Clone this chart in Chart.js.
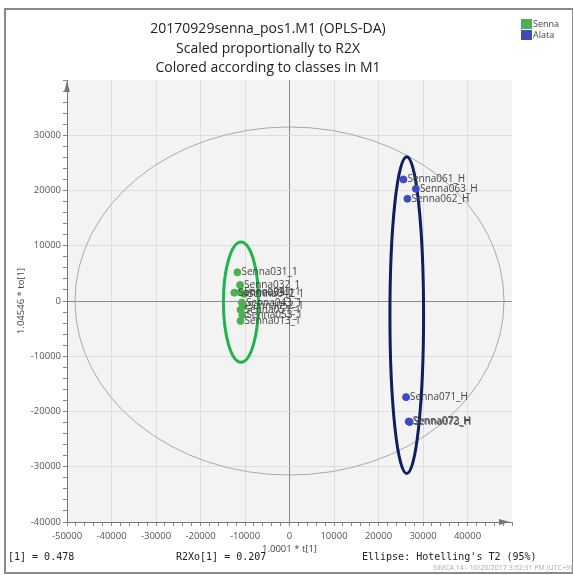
<!DOCTYPE html>
<html>
<head>
<meta charset="utf-8">
<script src="https://cdn.jsdelivr.net/npm/chart.js@4.4.1/dist/chart.umd.min.js"></script>
<style>
  body { margin: 0; background: #fff; }
  #wrap { position: relative; width: 573px; height: 575px; overflow: hidden; }
  #frame { position: absolute; left: 4px; top: 8px; width: 566px; height: 562px; border: 2px solid #8a8a8a; }
  #plot { position: absolute; left: 0; top: 0; }
  .txt { position: absolute; white-space: pre; color: #222; }
  #title { left: 68px; width: 400px; top: 18px; text-align: center; font: 14px "Open Sans", sans-serif; line-height: 19.5px; color: #222; }
  .legsq { position: absolute; left: 521px; width: 11px; height: 10px; }
  .legtx { left: 533px; font: 9px "Open Sans", sans-serif; color: #444; line-height: 10px; }
  .mono { font: 10px "DejaVu Sans Mono", monospace; top: 551px; line-height: 12px; }
  #simca { right: 1px; top: 563px; font: 7px "Open Sans", sans-serif; color: #aaa; }
</style>
</head>
<body>
<div id="wrap">
  <div id="frame"></div>
  <canvas id="plot" width="573" height="575"></canvas>
  <div class="txt" id="title">20170929senna_pos1.M1 (OPLS-DA)
Scaled proportionally to R2X
Colored according to classes in M1</div>
  <div class="legsq" style="top:19px;background:#4caf50"></div>
  <div class="legsq" style="top:30px;background:#3d4cb8"></div>
  <div class="txt legtx" style="top:19px">Senna</div>
  <div class="txt legtx" style="top:30px">Alata</div>
  <div class="txt mono" style="left:8px">[1] = 0.478</div>
  <div class="txt mono" style="left:176px">R2Xo[1] = 0.207</div>
  <div class="txt mono" style="left:362px">Ellipse: Hotelling's T2 (95%)</div>
  <div class="txt" id="simca">SIMCA 14 - 10/20/2017 3:52:31 PM (UTC+9)</div>
</div>
<script>
// Senna class (green)
var sennaNames = ['Senna031_1', 'Senna032_1', 'Senna033_1', 'Senna041_1', 'Senna042_1',
                  'Senna043_1', 'Senna051_1', 'Senna052_1', 'Senna053_1', 'Senna013_1'];
var sennaX = [-11700, -11100, -12400, -11000, -10200, -10700, -11000, -10300, -10600, -11000];
var sennaY = [5200, 2900, 1500, 1600, 1300, -300, -1600, -900, -2500, -3600];

// Alata class (blue)
var alataNames = ['Senna061_H', 'Senna063_H', 'Senna062_H', 'Senna071_H', 'Senna072_H', 'Senna073_H'];
var alataX = [25600, 28400, 26500, 26200, 26800, 27000];
var alataY = [22000, 20300, 18500, -17400, -21800, -21900];

// ellipses: Hotelling T2 (95%) and class ellipses
var ellipseNames = ['hotelling', 'senna', 'alata'];
var ellipseCx = [0, -10900, 26350];
var ellipseCy = [0, -200, -2540];
var ellipseRx = [48200, 3950, 3780];
var ellipseRy = [31500, 10900, 28670];

var xTicks = [-50000, -40000, -30000, -20000, -10000, 0, 10000, 20000, 30000, 40000];
var yTicks = [-40000, -30000, -20000, -10000, 0, 10000, 20000, 30000];

function toPoints(xs, ys) {
  return xs.map(function (x, i) { return { x: x, y: ys[i] }; });
}

var ellipseStyle = {
  hotelling: { color: '#a8a8a8', width: 1 },
  senna: { color: '#1fb34c', width: 3 },
  alata: { color: '#0c1f5e', width: 3 }
};

var gridColor = function (ctx) {
  var v = ctx.tick.value;
  if (v === 0) return '#8c8c8c';
  if (v % 10000 !== 0) return 'rgba(0,0,0,0)';
  return '#dddddd';
};

var plotPlugin = {
  id: 'simcaPlot',
  beforeDraw: function (chart) {
    var a = chart.chartArea, c = chart.ctx;
    c.save();
    c.fillStyle = '#f3f3f3';
    c.fillRect(a.left, a.top, a.right - a.left, a.bottom - a.top);
    c.restore();
  },
  beforeDatasetsDraw: function (chart) {
    var a = chart.chartArea, c = chart.ctx;
    var xs = chart.scales.x, ys = chart.scales.y;
    c.save();
    c.beginPath();
    c.rect(a.left, a.top, a.right - a.left, a.bottom - a.top);
    c.clip();
    ellipseNames.forEach(function (n, i) {
      var px = xs.getPixelForValue(ellipseCx[i]);
      var py = ys.getPixelForValue(ellipseCy[i]);
      var rx = xs.getPixelForValue(ellipseCx[i] + ellipseRx[i]) - px;
      var ry = py - ys.getPixelForValue(ellipseCy[i] + ellipseRy[i]);
      c.beginPath();
      c.ellipse(px, py, rx, ry, 0, 0, Math.PI * 2);
      c.strokeStyle = ellipseStyle[n].color;
      c.lineWidth = ellipseStyle[n].width;
      c.stroke();
    });
    c.restore();
  },
  afterDatasetsDraw: function (chart) {
    var c = chart.ctx;
    c.save();
    c.font = '10px "Open Sans", sans-serif';
    c.fillStyle = '#444';
    c.textBaseline = 'middle';
    chart.data.datasets.forEach(function (ds, di) {
      var meta = chart.getDatasetMeta(di);
      meta.data.forEach(function (pt, i) {
        c.fillText(ds.names[i], pt.x + 4, pt.y);
      });
    });
    c.restore();
  },
  afterDraw: function (chart) {
    var a = chart.chartArea, c = chart.ctx;
    c.save();
    c.fillStyle = '#777';
    // arrow at top of y axis
    c.beginPath();
    c.moveTo(a.left, a.top + 1);
    c.lineTo(a.left - 3, a.top + 12);
    c.lineTo(a.left + 3, a.top + 12);
    c.closePath();
    c.fill();
    // arrow at end of x axis
    c.beginPath();
    c.moveTo(a.right - 2, a.bottom);
    c.lineTo(a.right - 13, a.bottom - 3);
    c.lineTo(a.right - 13, a.bottom + 3);
    c.closePath();
    c.fill();
    c.restore();
  }
};

var tickFont = { family: '"Open Sans", sans-serif', size: 9.5 };

var chart = new Chart(document.getElementById('plot'), {
  type: 'scatter',
  data: {
    datasets: [{
      label: 'Senna',
      names: sennaNames,
      data: toPoints(sennaX, sennaY),
      backgroundColor: '#4caf50',
      borderColor: '#4caf50',
      pointRadius: 3.5
    }, {
      label: 'Alata',
      names: alataNames,
      data: toPoints(alataX, alataY),
      backgroundColor: '#3d4cc4',
      borderColor: '#3d4cc4',
      pointRadius: 3.5
    }]
  },
  options: {
    responsive: false,
    animation: false,
    layout: { padding: { top: 80, right: 61, bottom: 0, left: 0 } },
    plugins: {
      legend: { display: false },
      tooltip: { enabled: false }
    },
    scales: {
      x: {
        type: 'linear',
        min: -50000,
        max: 50000,
        afterFit: function (s) { s.height = 53; },
        border: { color: '#777', width: 1 },
        grid: {
          color: function (ctx) { return ctx.tick.value === 50000 ? 'rgba(0,0,0,0)' : gridColor(ctx); },
          tickColor: '#888',
          tickLength: 4
        },
        ticks: {
          stepSize: 2000,
          autoSkip: false,
          maxRotation: 0,
          padding: 5,
          color: '#555',
          font: tickFont,
          callback: function (v) { return xTicks.indexOf(v) >= 0 ? String(v) : ''; }
        },
        title: {
          display: true,
          text: '1.0001 * t[1]',
          color: '#444',
          font: { family: '"Open Sans", sans-serif', size: 9.5 },
          padding: { top: 0, bottom: 20 }
        }
      },
      y: {
        type: 'linear',
        min: -40000,
        max: 40000,
        afterFit: function (s) { s.width = 67; },
        border: { color: '#777', width: 1 },
        grid: {
          color: function (ctx) { return ctx.tick.value === 40000 ? 'rgba(0,0,0,0)' : gridColor(ctx); },
          tickColor: '#888',
          tickLength: 4
        },
        ticks: {
          stepSize: 2000,
          autoSkip: false,
          padding: 2,
          color: '#555',
          font: tickFont,
          callback: function (v) { return yTicks.indexOf(v) >= 0 ? String(v) : ''; }
        },
        title: {
          display: true,
          text: '1.04546 * to[1]',
          color: '#444',
          font: { family: '"Open Sans", sans-serif', size: 9.5 },
          padding: { top: 16, bottom: 0 }
        }
      }
    }
  },
  plugins: [plotPlugin]
});
</script>
</body>
</html>
